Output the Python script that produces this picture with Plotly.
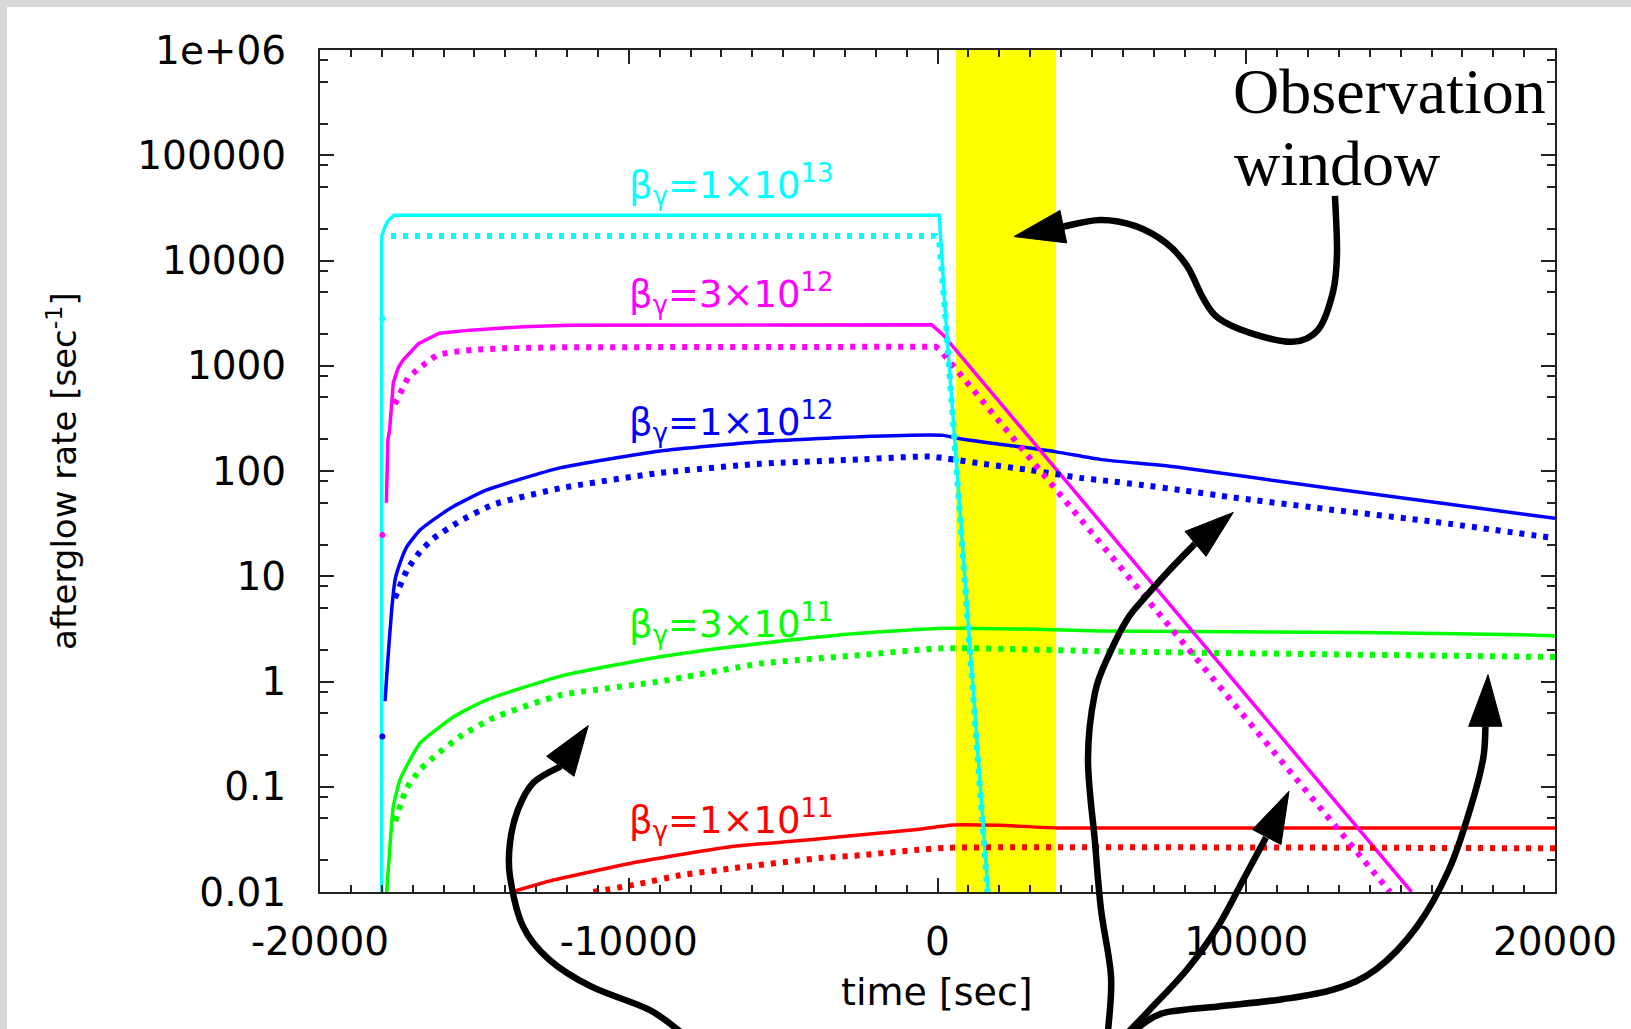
import plotly.graph_objects as go

# ---------------- data ----------------
# beta_gamma = 1e13 (cyan)
cyan_solid_x = [-18000, -18000, -17895, -17790, -17600, 60, 240, 1640]
cyan_solid_y = [0.01, 17000, 21000, 24000, 26900, 26900, 3600, 0.01]
cyan_dot_x = [-17700, -60, 60, 240, 1620]
cyan_dot_y = [17100, 17100, 15000, 3400, 0.01]

# beta_gamma = 3e12 (magenta)
magenta_solid_x = [-17850, -17800, -17745, -17626, -17470, -17322, -16813, -16136, -15120, -13425, -11900, -190, 190, 15355]
magenta_solid_y = [50, 200, 245, 690, 950, 1120, 1620, 2040, 2180, 2350, 2430, 2450, 1950, 0.01]
magenta_dot_x = [-17576, -17150, -16730, -16220, -15800, -15000, -14000, -12000, -60, 130, 14660]
magenta_dot_y = [432, 769, 980, 1260, 1340, 1420, 1470, 1500, 1515, 1360, 0.01]

# beta_gamma = 1e12 (blue)
blue_solid_x = [-17895, -17787, -17678, -17570, -17410, -17190, -16760, -16005, -15680, -14600, -12227,
                -8988, -5750, -2510, 190, 620, 3840, 5263, 7740, 12713, 20000]
blue_solid_y = [0.65, 1.85, 4.8, 9.2, 13.3, 19, 27.5, 40, 46, 66, 107,
                155, 190, 212, 218, 205, 152, 129, 109, 68.5, 35.5]
blue_dot_x = [-17576, -17172, -16768, -16330, -15466, -14390, -12227, -8988, -5750, -2510, -245,
              1376, 2995, 4615, 5425, 6560, 7855, 9580, 12820, 16060, 20000]
blue_dot_y = [6.2, 11.6, 17, 22.8, 33.4, 48, 68.5, 96, 117, 129, 137,
              118, 102, 86, 81, 74, 66, 56, 42.7, 33, 23]

# beta_gamma = 3e11 (green)
green_solid_x = [-17840, -17733, -17625, -17410, -17085, -16760, -15680, -14600, -12227, -8988, -5750,
                 -2510, 190, 2830, 5263, 13680, 18920, 20000]
green_solid_y = [0.01, 0.0274, 0.065, 0.116, 0.18, 0.26, 0.46, 0.67, 1.12, 1.72, 2.3,
                 2.88, 3.2, 3.15, 3.02, 2.92, 2.78, 2.7]
green_dot_x = [-17570, -17190, -16760, -16330, -15466, -14390, -12227, -8988, -5750, -2510, 190, 6040, 20000]
green_dot_y = [0.047, 0.097, 0.145, 0.19, 0.30, 0.45, 0.74, 1.0, 1.48, 1.78, 2.07, 1.92, 1.71]

# beta_gamma = 1e11 (red)
red_solid_x = [-13790, -12440, -9636, -6650, -3800, -2450, -740, 500, 2000, 4000, 20000]
red_solid_y = [0.01, 0.013, 0.0195, 0.027, 0.032, 0.035, 0.039, 0.0434, 0.0430, 0.0405, 0.0405]
red_dot_x = [-11150, -9636, -8340, -6650, -3800, -2450, -740, 270, 20000]
red_dot_y = [0.01, 0.012, 0.0144, 0.0168, 0.021, 0.0224, 0.025, 0.0263, 0.026]

# isolated first samples of the dotted curves
first_x = [-17980, -17980, -17980]
first_y = [2800, 24.6, 0.30]
first_colors = ["#00ffff", "#ff00ff", "#0000ff"]

# observation window [sec]
window_start, window_end = 600, 3840

x_tickvals = [-20000, -10000, 0, 10000, 20000]
x_ticktext = ["-20000", "-10000", "0", "10000", "20000"]
y_tickvals = [0.01, 0.1, 1, 10, 100, 1000, 10000, 100000, 1000000]
y_ticktext = ["0.01", "0.1", "1", "10", "100", "1000", "10000", "100000", "1e+06"]

labels = ["β<sub>γ</sub>=1×10<sup>13</sup>", "β<sub>γ</sub>=3×10<sup>12</sup>",
          "β<sub>γ</sub>=1×10<sup>12</sup>", "β<sub>γ</sub>=3×10<sup>11</sup>",
          "β<sub>γ</sub>=1×10<sup>11</sup>"]

# ---------------- layout geometry ----------------
W, H = 1631, 1029
L, R, T, B = 320, 1555, 50, 892.5


def px(x):
    return (x - L) / (R - L)


def py(y):
    return (B - y) / (B - T)


fig = go.Figure()

series = [
    ("#ff0000", red_solid_x, red_solid_y, red_dot_x, red_dot_y, "spline"),
    ("#00ff00", green_solid_x, green_solid_y, green_dot_x, green_dot_y, "spline"),
    ("#0000ff", blue_solid_x, blue_solid_y, blue_dot_x, blue_dot_y, "spline"),
    ("#ff00ff", magenta_solid_x, magenta_solid_y, magenta_dot_x, magenta_dot_y, "linear"),
    ("#00ffff", cyan_solid_x, cyan_solid_y, cyan_dot_x, cyan_dot_y, "linear"),
]
for col, sx, sy, dx, dy, shp in series:
    fig.add_trace(go.Scatter(x=sx, y=sy, mode="lines",
                             line=dict(color=col, width=3.5, shape=shp, smoothing=0.5),
                             showlegend=False, hoverinfo="skip"))
for col, sx, sy, dx, dy, shp in series:
    fig.add_trace(go.Scatter(x=dx, y=dy, mode="lines",
                             line=dict(color=col, width=6, dash="5px,7px", shape=shp, smoothing=0.5),
                             showlegend=False, hoverinfo="skip"))
fig.add_trace(go.Scatter(x=first_x, y=first_y, mode="markers",
                         marker=dict(color=first_colors, size=6, symbol="circle"),
                         showlegend=False, hoverinfo="skip"))

shapes = []
# grey page border + white sheet
shapes.append(dict(type="rect", xref="paper", yref="paper", x0=px(7), x1=px(W + 5), y0=py(H + 5), y1=py(7),
                   fillcolor="white", line=dict(width=0), layer="below"))
# yellow observation window
shapes.append(dict(type="rect", xref="x", yref="paper", x0=window_start, x1=window_end, y0=0, y1=1,
                   fillcolor="#ffff00", line=dict(width=0), layer="below"))


def smooth_path(pts):
    P = [(px(x), py(y)) for x, y in pts]
    d = "M %.5f,%.5f" % P[0]
    for i in range(len(P) - 1):
        p0 = P[i - 1] if i > 0 else P[i]
        p1 = P[i]
        p2 = P[i + 1]
        p3 = P[i + 2] if i + 2 < len(P) else P[i + 1]
        c1 = (p1[0] + (p2[0] - p0[0]) / 6, p1[1] + (p2[1] - p0[1]) / 6)
        c2 = (p2[0] - (p3[0] - p1[0]) / 6, p2[1] - (p3[1] - p1[1]) / 6)
        d += " C %.5f,%.5f %.5f,%.5f %.5f,%.5f" % (c1[0], c1[1], c2[0], c2[1], p2[0], p2[1])
    return d


def tri(a, b, c):
    return "M %.5f,%.5f L %.5f,%.5f L %.5f,%.5f Z" % (px(a[0]), py(a[1]), px(b[0]), py(b[1]), px(c[0]), py(c[1]))


arrows = [
    ([(1335, 196), (1337, 253), (1333, 292), (1318, 330), (1292, 342), (1250, 333), (1218, 318),
      (1203, 298), (1187, 266), (1166, 243), (1135, 226), (1100, 220), (1062, 227)],
     [(1014, 236.7), (1060, 210.5), (1066.7, 243)]),
    ([(1108, 1032), (1111, 977), (1101, 910), (1095, 843), (1088, 760), (1095, 693), (1110, 653),
      (1127, 620), (1143, 600), (1167, 573), (1195, 544)],
     [(1233.3, 512.7), (1185, 531.7), (1206, 556.7)]),
    ([(1129, 1032), (1150, 1010), (1187, 970), (1218, 927), (1245, 877), (1266, 838)],
     [(1289, 791.7), (1252.4, 830), (1281, 845)]),
    ([(1135, 1032), (1145, 1023), (1166, 1013), (1218, 1007), (1281, 1000), (1334, 990), (1376, 970),
      (1417, 927), (1449, 870), (1470, 810), (1483, 760), (1485.5, 727)],
     [(1488, 675), (1468.7, 726.7), (1502, 726.7)]),
    ([(680, 1032), (648.5, 1010), (591, 987), (549, 960), (523, 927), (510, 877), (510, 843),
      (518, 810), (533.5, 783), (560.7, 766.7)],
     [(588.3, 726), (546.6, 756.7), (574, 776.7)]),
]
for pts, head in arrows:
    shapes.append(dict(type="path", xref="paper", yref="paper", path=smooth_path(pts),
                       line=dict(color="black", width=6.5), layer="above"))
    shapes.append(dict(type="path", xref="paper", yref="paper", path=tri(*head),
                       fillcolor="black", line=dict(color="black", width=1), layer="above"))

label_colors = ["#00ffff", "#ff00ff", "#0000ff", "#00ff00", "#ff0000"]
label_baselines = [198, 307, 435, 637, 833]
annotations = []
for txt, col, base in zip(labels, label_colors, label_baselines):
    annotations.append(dict(text=txt, x=px(627), y=py(base - 13), xref="paper", yref="paper",
                            xanchor="left", yanchor="middle", showarrow=False,
                            font=dict(family="DejaVu Sans", size=37, color=col)))
annotations.append(dict(text="Observation", x=px(1231), y=py(113 - 21), xref="paper", yref="paper",
                        xanchor="left", yanchor="middle", showarrow=False,
                        font=dict(family="Liberation Serif", size=64, color="black")))
annotations.append(dict(text="window", x=px(1232), y=py(185 - 21), xref="paper", yref="paper",
                        xanchor="left", yanchor="middle", showarrow=False,
                        font=dict(family="Liberation Serif", size=64, color="black")))
annotations.append(dict(text="afterglow rate [sec<sup>-1</sup>]", x=px(62), y=0.5, xref="paper", yref="paper",
                        xanchor="center", yanchor="middle", textangle=-90, showarrow=False,
                        font=dict(family="DejaVu Sans", size=34, color="black")))
annotations.append(dict(text="time [sec]", x=px(937), y=py(993), xref="paper", yref="paper",
                        xanchor="center", yanchor="middle", showarrow=False,
                        font=dict(family="DejaVu Sans", size=38, color="black")))

y_minor = [m * 10.0 ** d for d in range(-2, 6) for m in (2, 5, 8)]
x_minor = list(range(-19000, 20000, 1000))

fig.update_layout(
    width=W, height=H, template="none",
    margin=dict(l=L, r=W - R, t=T, b=H - B, pad=0),
    paper_bgcolor="#d8d8d8", plot_bgcolor="white",
    shapes=shapes, annotations=annotations, showlegend=False,
    font=dict(family="DejaVu Sans", color="black"),
)
fig.update_xaxes(
    range=[-20000, 20000], tickvals=x_tickvals, ticktext=x_ticktext,
    ticks="inside", ticklen=14, tickwidth=2, tickcolor="#222",
    showline=True, linewidth=2, linecolor="#222", mirror="allticks",
    showgrid=False, zeroline=False, automargin=False,
    tickfont=dict(family="DejaVu Sans", size=39, color="black"), ticklabelstandoff=14,
    minor=dict(tickvals=x_minor, ticks="inside", ticklen=7, tickwidth=1.5, tickcolor="#222", showgrid=False),
)
fig.update_yaxes(
    type="log", range=[-2, 6], tickvals=y_tickvals, ticktext=y_ticktext,
    ticks="inside", ticklen=14, tickwidth=2, tickcolor="#222",
    showline=True, linewidth=2, linecolor="#222", mirror="allticks",
    showgrid=False, zeroline=False, automargin=False,
    tickfont=dict(family="DejaVu Sans", size=39, color="black"), ticklabelstandoff=24,
    minor=dict(tickvals=y_minor, ticks="inside", ticklen=8, tickwidth=1.5, tickcolor="#222", showgrid=False),
)

fig.write_html("out.html", config={"displayModeBar": False},
               post_script="document.body.style.margin='0px';document.body.style.overflow='hidden';")
